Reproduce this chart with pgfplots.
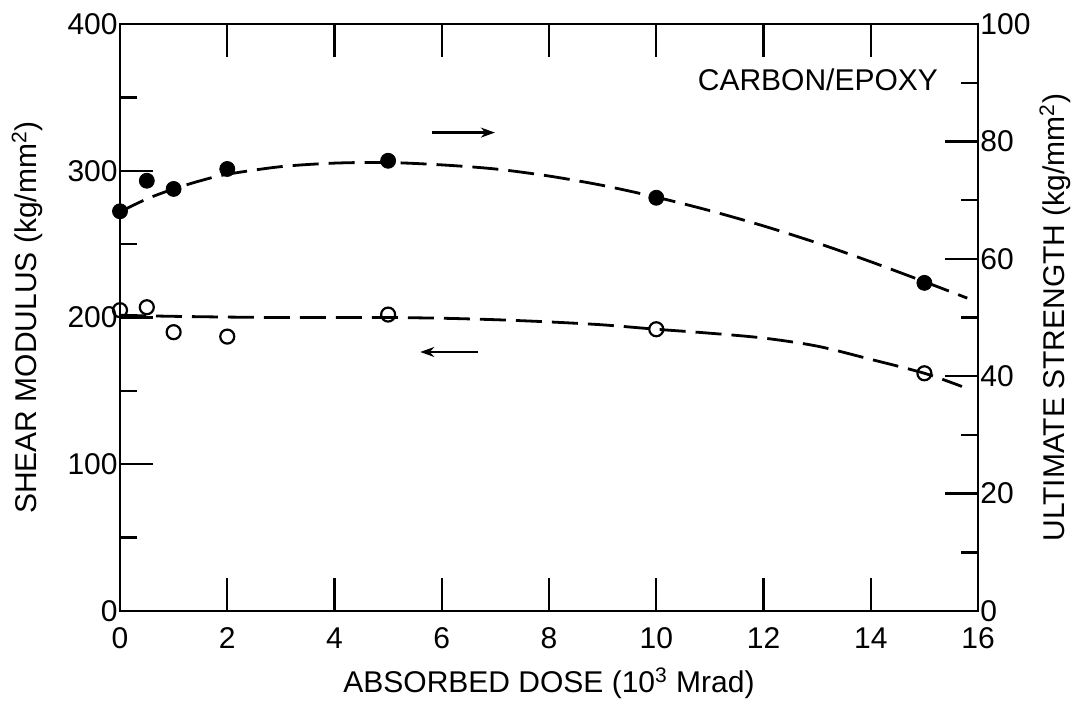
\documentclass[border=0pt]{standalone}
\usepackage{pgfplots}
\pgfplotsset{compat=1.18}
\usepackage{pgfplotstable}
\usepackage{fontspec}
\setmainfont{Liberation Sans}
\usetikzlibrary{arrows.meta}

% shear modulus, open circles (left scale)
\pgfplotstableread{
x y
0   205
0.5 207
1   190
2   187
5   202
10  192
15  162
}\modulus
% ultimate strength, filled circles (right scale)
\pgfplotstableread{
x y
0   68.1
0.5 73.3
1   71.9
2   75.3
5   76.7
10  70.4
15  55.9
}\strength
% dashed fit lines
\pgfplotstableread{
x y
0    201.5
1    200.8
2    200.3
3    200
4    200
5    200
6    199.5
7    198.5
8    197
9    195
10   192
11   189.3
12   186
13   180.5
14   171.5
15   162
15.7 153
}\modfit
\pgfplotstableread{
x y
0    68
0.5  70.2
1    71.9
1.5  73.3
2    74.4
3    75.7
4    76.3
5    76.4
6    76.0
7    75.3
8    74.1
9    72.5
10   70.5
11   68.2
12   65.6
13   62.7
14   59.5
15   56.1
15.8 53.3
}\strfit

\pgfplotsset{
  common/.style={
    scale only axis, width=429pt, height=293.5pt,
    xmin=0, xmax=16,
    axis line style={line width=1.4pt},
    tick style={line width=1.2pt, black},
    major tick length=16.5pt, minor tick length=8.5pt,
    tick align=inside,
    /pgf/number format/assume math mode=true,
    tick label style={font=\fontsize{15}{15}\selectfont},
    label style={font=\fontsize{15}{15}\selectfont},
  },
  fit/.style={black, line width=1.4pt, dash pattern=on 13pt off 5pt, smooth, no marks},
}

\begin{document}
\begin{tikzpicture}
\begin{axis}[common, name=main,
    ymin=0, ymax=400,
    xtick={0,2,...,16}, ytick={0,100,...,400},
    minor ytick={50,150,250,350},
    ytick pos=left, xticklabel pos=bottom,
    xticklabel style={inner sep=1pt, yshift=-7pt},
    yticklabel style={inner sep=1pt},
    xlabel={ABSORBED DOSE (10\textsuperscript{3} Mrad)},
    ylabel={SHEAR MODULUS (kg/mm\textsuperscript{2})},
    xlabel style={at={(axis description cs:0.5,0)}, anchor=center, yshift=-36pt},
    ylabel style={at={(axis description cs:-0.108,0.5)}, anchor=center},
]
\addplot[fit] table {\modfit};
\addplot[only marks, mark=o, mark size=3.5pt, line width=1.1pt, mark options={fill=white}] table {\modulus};
\draw[line width=1.1pt, -{Stealth[length=7pt,width=5pt]}] (axis cs:6.68,176.5) -- (axis cs:5.6,176.5);
\draw[line width=1.1pt, -{Stealth[length=7pt,width=5pt]}] (axis cs:5.82,326) -- (axis cs:6.99,326);
\node[anchor=east, font=\fontsize{15}{15}\selectfont, inner sep=0pt] at (axis cs:15.26,362) {CARBON/EPOXY};
\end{axis}
\begin{axis}[common,
    ymin=0, ymax=100,
    axis x line=none, axis y line*=right,
    ytick={0,20,...,100}, minor ytick={10,30,50,70,90},
    yticklabel style={inner sep=1pt},
    ylabel={ULTIMATE STRENGTH (kg/mm\textsuperscript{2})},
    ylabel style={at={(axis description cs:1.09,0.5)}, anchor=center},
]
\addplot[fit] table {\strfit};
\addplot[only marks, mark=*, mark size=3.75pt, black] table {\strength};
\end{axis}
\pgfresetboundingbox
\path[use as bounding box] ([xshift=-60pt,yshift=-46pt]main.south west) rectangle ([xshift=50.5pt,yshift=12pt]main.north east);
\end{tikzpicture}
\end{document}
